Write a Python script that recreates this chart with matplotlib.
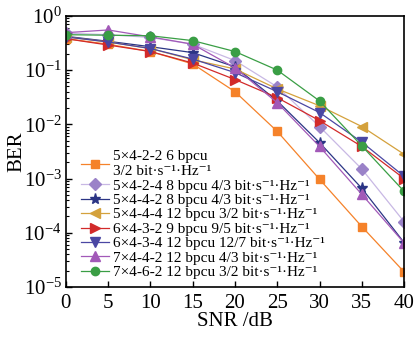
import matplotlib
matplotlib.use("Agg")
import matplotlib.pyplot as plt
from matplotlib.ticker import LogLocator, NullFormatter

plt.rcParams['font.family'] = ['Liberation Serif', 'DejaVu Serif']
plt.rcParams['mathtext.fontset'] = 'custom'
plt.rcParams['mathtext.rm'] = 'Liberation Serif'
plt.rcParams['mathtext.it'] = 'Liberation Serif:italic'
plt.rcParams['mathtext.bf'] = 'Liberation Serif:bold'

snr = [0, 5, 10, 15, 20, 25, 30, 35, 40]
yticks = [1e-5, 1e-4, 1e-3, 1e-2, 1e-1, 1e0]
ytick_labels = [r"$\mathrm{10^{-5}}$", r"$\mathrm{10^{-4}}$", r"$\mathrm{10^{-3}}$",
                r"$\mathrm{10^{-2}}$", r"$\mathrm{10^{-1}}$", r"$\mathrm{10^{0}}$"]

labels = [
    "5×4-2-2 6 bpcu\n3/2 bit·s⁻¹·Hz⁻¹",
    "5×4-2-4 8 bpcu 4/3 bit·s⁻¹·Hz⁻¹",
    "5×4-4-2 8 bpcu 4/3 bit·s⁻¹·Hz⁻¹",
    "5×4-4-4 12 bpcu 3/2 bit·s⁻¹·Hz⁻¹",
    "6×4-3-2 9 bpcu 9/5 bit·s⁻¹·Hz⁻¹",
    "6×4-3-4 12 bpcu 12/7 bit·s⁻¹·Hz⁻¹",
    "7×4-4-2 12 bpcu 4/3 bit·s⁻¹·Hz⁻¹",
    "7×4-6-2 12 bpcu 3/2 bit·s⁻¹·Hz⁻¹",
]

ber_542_2 = [0.38, 0.30, 0.22, 0.13, 0.040, 0.0074, 9.7e-4, 1.3e-4, 1.9e-5]
ber_542_4 = [0.48, 0.45, 0.40, 0.30, 0.15, 0.049, 0.0091, 1.5e-3, 1.6e-4]
ber_544_2 = [0.42, 0.34, 0.27, 0.21, 0.115, 0.027, 0.0046, 6.6e-4, 6.6e-5]
ber_544_4 = [0.41, 0.33, 0.25, 0.155, 0.105, 0.045, 0.022, 0.0091, 2.8e-3]
ber_643_2 = [0.38, 0.29, 0.22, 0.135, 0.067, 0.031, 0.0117, 0.0039, 1.0e-3]
ber_643_4 = [0.41, 0.33, 0.25, 0.16, 0.09, 0.040, 0.0165, 0.0047, 1.1e-3]
ber_744_2 = [0.49, 0.55, 0.41, 0.30, 0.11, 0.025, 0.0039, 5.1e-4, 6.5e-5]
ber_746_2 = [0.45, 0.44, 0.43, 0.35, 0.22, 0.10, 0.027, 0.0040, 5.8e-4]

series = [ber_542_2, ber_542_4, ber_544_2, ber_544_4, ber_643_2, ber_643_4, ber_744_2, ber_746_2]
markers = ['s', 'D', '*', '<', '>', 'v', '^', 'o']
mcolors = ['#F5822A', '#9A82C8', '#2B3585', '#D4A13C', '#D22A2A', '#4A47A3', '#A259B8', '#3A9E45']
lcolors = ['#F5822A', '#C8B8E4', '#2B3585', '#D4A13C', '#D22A2A', '#4A47A3', '#A259B8', '#3A9E45']
msizes = [6, 6, 8, 7, 7, 7, 7, 6]

fig = plt.figure(figsize=(4.17, 3.38), dpi=100)
ax = fig.add_axes([0.158, 0.151, 0.811, 0.802])

for y, m, mc, lc, ms, lab in zip(series, markers, mcolors, lcolors, msizes, labels):
    ax.plot(snr, y, marker=m, color=lc, markerfacecolor=mc, markeredgecolor=mc,
            markersize=ms, linewidth=0.9, label=lab)

ax.set_yscale('log')
ax.set_xlim(0, 40)
ax.set_ylim(1e-5, 1)
ax.set_xticks(snr)
ax.set_yticks(yticks, ytick_labels)
ax.yaxis.set_minor_locator(LogLocator(base=10, subs=range(2, 10), numticks=20))
ax.yaxis.set_minor_formatter(NullFormatter())
ax.tick_params(axis='both', which='major', direction='in', labelsize=15, length=4, width=1)
ax.tick_params(axis='y', which='minor', direction='in', length=2, width=0.8)
ax.tick_params(axis='y', which='major', pad=3)
ax.tick_params(axis='x', pad=5)
for s in ax.spines.values():
    s.set_linewidth(1.2)

ax.set_xlabel('SNR /dB', fontsize=15, labelpad=-1)
ax.set_ylabel('BER', fontsize=15)
ax.yaxis.set_label_coords(-0.118, 0.5)

leg = ax.legend(loc='upper left', bbox_to_anchor=(0.045, 0.505), frameon=False,
                fontsize=11, handlelength=1.8, handletextpad=0.3, labelspacing=0.05,
                borderpad=0.0, borderaxespad=0.0)

fig.savefig('out.png', dpi=100)
